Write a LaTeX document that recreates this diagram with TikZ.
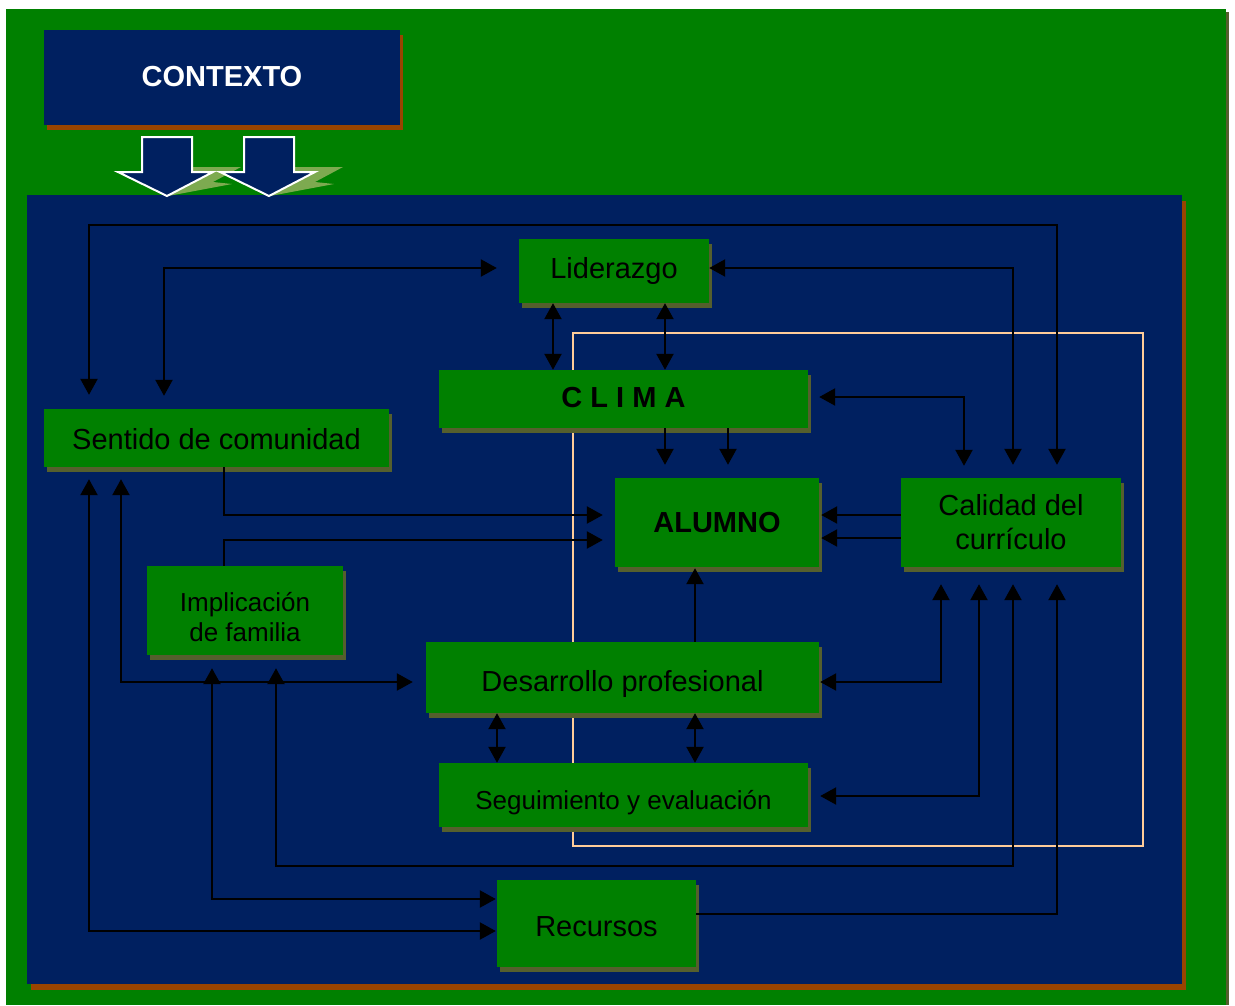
\documentclass[tikz,border=0pt]{standalone}
\usepackage{fontspec}
\setmainfont{Liberation Sans}
\usetikzlibrary{arrows.meta,calc,shadows}
\definecolor{bggreen}{RGB}{0,128,0}
\definecolor{navyblue}{RGB}{0,32,96}
\definecolor{rust}{RGB}{153,68,0}
\definecolor{shadowolive}{RGB}{85,95,45}
\definecolor{peach}{RGB}{255,204,153}
\definecolor{arrowshadow}{RGB}{125,170,80}
\begin{document}
\begin{tikzpicture}[x=1pt,y=-1pt,
  gbox/.style={fill=bggreen, inner sep=0pt, align=center, text=black,
    font=\fontsize{29}{34}\selectfont,
    drop shadow={shadow xshift=2.5pt,shadow yshift=-5pt,fill=shadowolive,opacity=1}},
  tb/.style={text height=#1, text depth=0pt},
  conn/.style={line width=2.3pt, draw=black},
  arr/.style={conn, -{Triangle[length=16pt,width=17pt]}},
  dar/.style={conn, {Triangle[length=16pt,width=17pt]}-{Triangle[length=16pt,width=17pt]}},
  blockarrow/.style={fill=navyblue, draw=white, line width=2pt},
]
% background and frames
\fill[white] (0,0) rectangle (1235,1005);
\useasboundingbox (0,0) rectangle (1235,1005);
\fill[shadowolive] (1226,12) rectangle (1229,1005);
\fill[bggreen] (6,9) rectangle (1226,1005);
\fill[rust] (31,201) rectangle (1186,990);
\fill[navyblue] (27,195) rectangle (1182,984);
% CONTEXTO box
\fill[rust] (47,35) rectangle (403,130);
\node[fill=navyblue, minimum width=356pt, minimum height=95pt, inner sep=0pt, tb=17pt,
  text=white, font=\fontsize{29}{33}\selectfont\bfseries] (ctx) at (222,77.5) {CONTEXTO};
% block arrows
\foreach \dx in {0,102}{
  \begin{scope}[xshift=\dx pt]
    \fill[arrowshadow] (192,167) -- (241,167) -- (213,182) -- (232,184) -- (168,196) -- cycle;
    \draw[blockarrow] (142,137) -- (192,137) -- (192,172) -- (213,172) -- (167,196) -- (118,172) -- (142,172) -- cycle;
  \end{scope}
}
% peach frame
\draw[peach, line width=2.5pt] (573,333) rectangle (1143,846);
% nodes
\node[gbox, minimum width=190pt, minimum height=64pt] (lid) at (614,271) {Liderazgo};
\node[gbox, minimum width=369pt, minimum height=58pt, tb=16pt] (cli) at (623.5,399) {\bfseries C L I M A};
\node[gbox, minimum width=345pt, minimum height=58pt, tb=22pt] (sen) at (216.5,438) {Sentido de comunidad};
\node[gbox, minimum width=204pt, minimum height=89pt, tb=19pt] (alu) at (717,522.5) {\bfseries ALUMNO};
\node[gbox, minimum width=220pt, minimum height=89pt] (cal) at (1011,522.5) {Calidad del\\curr\'iculo};
\node[gbox, minimum width=196pt, minimum height=89pt,
  label={[name=impt, font=\fontsize{26}{30}\selectfont, align=center, text=black, inner sep=0pt, yshift=-7pt]center:Implicaci\'on\\de familia}] (imp) at (245,610.5) {};
\node[gbox, minimum width=393pt, minimum height=71pt, tb=27pt] (des) at (622.5,677.5) {Desarrollo profesional};
\node[gbox, minimum width=369pt, minimum height=64pt, tb=28pt, font=\fontsize{26}{30}\selectfont] (seg) at (623.5,795) {Seguimiento y evaluaci\'on};
\node[gbox, minimum width=199pt, minimum height=87pt, tb=25pt] (rec) at (596.5,923.5) {Recursos};
% connectors
\draw[dar] ($(sen.north)+(-127.5,-14)$) -- ++(0,-170) -| ($(cal.north)+(46,-13)$);
\draw[dar] ($(sen.north)+(-52.5,-13)$) |- ($(lid.west)+(-22,-3)$);
\draw[dar] ($(lid.east)+(0,-3)$) -| ($(cal.north)+(2,-13)$);
\draw[dar] ($(lid.south)+(-61,0)$) -- ($(lid.south |- cli.north)+(-61,0)$);
\draw[dar] ($(lid.south)+(51,0)$) -- ($(lid.south |- cli.north)+(51,0)$);
\draw[arr] ($(cli.south)+(41.5,0)$) -- ($(cli.south |- alu.north)+(41.5,-13)$);
\draw[arr] ($(cli.south)+(104.5,0)$) -- ($(cli.south |- alu.north)+(104.5,-13)$);
\draw[dar] ($(cli.east)+(11,-2)$) -| ($(cal.north)+(-47,-12)$);
\draw[arr] ($(cal.west)+(0,-7.5)$) -- ($(alu.east)+(2,-7.5)$);
\draw[arr] ($(cal.west)+(0,15.5)$) -- ($(alu.east)+(2,15.5)$);
\draw[arr] ($(sen.south)+(7.5,0)$) |- ($(alu.west)+(-12,-7.5)$);
\draw[arr] ($(imp.north)+(-21,0)$) |- ($(alu.west)+(-12,17.5)$);
\draw[dar] ($(sen.south)+(-95.5,12)$) |- ($(des.west)+(-13,4.5)$);
\draw[dar] ($(sen.south)+(-127.5,12)$) |- ($(rec.west)+(-1,7.5)$);
\draw[dar] ($(imp.south)+(-33,13)$) |- ($(rec.west)+(-1,-24.5)$);
\draw[dar] ($(imp.south)+(31,13)$) -- ++(0,198) -| ($(cal.south)+(2,17)$);
\draw[arr] ($(rec.east)+(0,-9.5)$) -| ($(cal.south)+(46,17)$);
\draw[dar] ($(des.east)+(1,4.5)$) -| ($(cal.south)+(-70,17)$);
\draw[dar] ($(seg.east)+(12,1)$) -| ($(cal.south)+(-32,17)$);
\draw[arr] ($(des.north)+(72.5,0)$) -- ($(alu.south)+(-22,1)$);
\draw[dar] ($(des.south)+(-125.5,0)$) -- ($(des.south |- seg.north)+(-125.5,0)$);
\draw[dar] ($(des.south)+(72.5,0)$) -- ($(des.south |- seg.north)+(72.5,0)$);
\end{tikzpicture}
\end{document}
